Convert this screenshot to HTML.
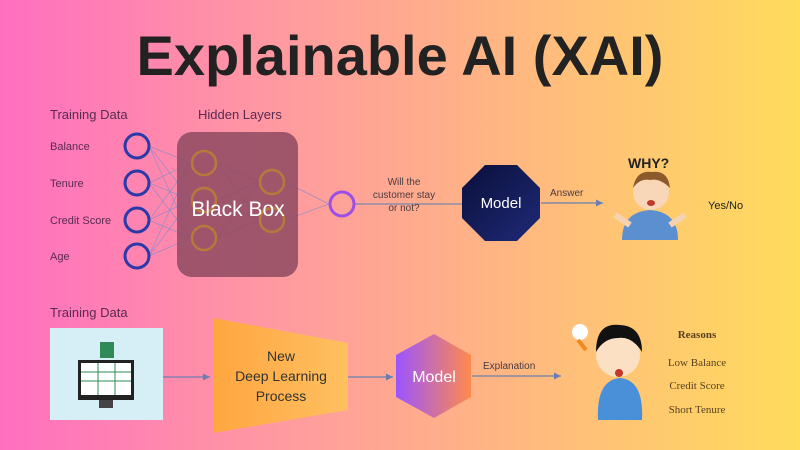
<!DOCTYPE html>
<html><head><meta charset="utf-8"><style>
html,body{margin:0;padding:0;width:800px;height:450px;overflow:hidden}
body{background:linear-gradient(90deg,#ff6fc0 0%,#ff9aa0 35%,#ffb880 65%,#ffdc5c 100%)}
</style></head><body>
<svg width="800" height="450" viewBox="0 0 800 450" xmlns="http://www.w3.org/2000/svg" style="position:absolute;left:0;top:0">
<defs>
<linearGradient id="oct" x1="0" y1="0" x2="1" y2="1"><stop offset="0" stop-color="#0a0f3a"/><stop offset="1" stop-color="#1f2a78"/></linearGradient>
<linearGradient id="hex" x1="0" y1="0" x2="1" y2="0"><stop offset="0" stop-color="#9c55ff"/><stop offset="1" stop-color="#ff8a4c"/></linearGradient>
<linearGradient id="trap" x1="0" y1="0" x2="1" y2="0"><stop offset="0" stop-color="#ffa640"/><stop offset="1" stop-color="#ffc060"/></linearGradient>
<marker id="ar" markerWidth="8" markerHeight="8" refX="6" refY="3" orient="auto"><path d="M0,0 L6,3 L0,6 z" fill="#6a7fb0"/></marker>
</defs>
<text x="400" y="75" text-anchor="middle" font-family="Liberation Sans,sans-serif" font-weight="bold" font-size="56" fill="#222">Explainable AI (XAI)</text>
<g font-family="Liberation Sans,sans-serif" fill="#5a2a50">
<text x="50" y="119" font-size="13">Training Data</text>
<text x="198" y="119" font-size="13">Hidden Layers</text>
<text x="50" y="150" font-size="11">Balance</text>
<text x="50" y="187" font-size="11">Tenure</text>
<text x="50" y="224" font-size="11">Credit Score</text>
<text x="50" y="260" font-size="11">Age</text>
<text x="50" y="317" font-size="13">Training Data</text>
</g>
<g stroke="#8a8ac8" stroke-width="0.8" opacity="0.8">
<path d="M149,146 L191,163 M149,146 L191,200 M149,146 L191,238 M149,183 L191,163 M149,183 L191,200 M149,183 L191,238 M149,220 L191,163 M149,220 L191,200 M149,220 L191,238 M149,256 L191,163 M149,256 L191,200 M149,256 L191,238"/>
<path d="M217,163 L259,182 M217,163 L259,220 M217,200 L259,182 M217,200 L259,220 M217,238 L259,182 M217,238 L259,220 M285,182 L329,204 M285,220 L329,204"/>
</g>
<rect x="177" y="132" width="121" height="145" rx="15" fill="#8e4a62" opacity="0.85"/>
<g fill="none" stroke="#b87a3a" stroke-width="2.5">
<circle cx="204" cy="163" r="12"/><circle cx="204" cy="200" r="12"/><circle cx="204" cy="238" r="12"/>
<circle cx="272" cy="182" r="12"/><circle cx="272" cy="220" r="12"/>
</g>
<text x="238" y="216" text-anchor="middle" font-family="Liberation Sans,sans-serif" font-size="21" fill="#fff">Black Box</text>
<g fill="none" stroke="#2b3aa8" stroke-width="3">
<circle cx="137" cy="146" r="12"/><circle cx="137" cy="183" r="12"/><circle cx="137" cy="220" r="12"/><circle cx="137" cy="256" r="12"/>
</g>
<circle cx="342" cy="204" r="12" fill="none" stroke="#9b4fe8" stroke-width="3"/>
<line x1="355" y1="204" x2="463" y2="204" stroke="#7a86b0" stroke-width="1.2"/>
<g font-family="Liberation Sans,sans-serif" font-size="10" fill="#4a3a40" text-anchor="middle">
<text x="404" y="185">Will the</text><text x="404" y="198">customer stay</text><text x="404" y="211">or not?</text>
</g>
<polygon points="485,165 517,165 540,188 540,218 517,241 485,241 462,218 462,188" fill="url(#oct)"/>
<text x="501" y="208" text-anchor="middle" font-family="Liberation Sans,sans-serif" font-size="15" fill="#fff">Model</text>
<line x1="541" y1="203" x2="603" y2="203" stroke="#6a7fb0" stroke-width="1.2" marker-end="url(#ar)"/>
<text x="550" y="196" font-family="Liberation Sans,sans-serif" font-size="10" fill="#4a3a40">Answer</text>
<text x="628" y="168" font-family="Liberation Sans,sans-serif" font-weight="bold" font-size="14" fill="#222">WHY?</text>
<path d="M622,240 Q622,212 650,210 Q678,212 678,240 Z" fill="#5b8fd0"/>
<path d="M615,215 L630,225 M685,215 L670,225" stroke="#f5d3b0" stroke-width="6"/>
<circle cx="651" cy="192" r="18" fill="#f8d7b8"/>
<path d="M633,188 Q636,170 652,172 Q668,170 670,188 Q660,178 650,180 Q640,178 633,188Z" fill="#8a5a2a"/>
<ellipse cx="651" cy="203" rx="4" ry="3" fill="#c0392b"/>
<text x="708" y="209" font-family="Liberation Sans,sans-serif" font-size="11" fill="#222">Yes/No</text>
<rect x="50" y="328" width="113" height="92" fill="#d6eef6"/>
<rect x="78" y="360" width="56" height="40" fill="#222"/>
<rect x="81" y="363" width="50" height="32" fill="#fff"/>
<path d="M81,372 H131 M81,381 H131 M98,363 V395 M115,363 V395" stroke="#2e8b57" stroke-width="1"/>
<rect x="99" y="400" width="14" height="8" fill="#444"/>
<rect x="100" y="342" width="14" height="16" fill="#2e8b57"/>
<line x1="163" y1="377" x2="210" y2="377" stroke="#6a7fb0" stroke-width="1.2" marker-end="url(#ar)"/>
<polygon points="213,318 348,343 348,410 213,433" fill="url(#trap)"/>
<g font-family="Liberation Sans,sans-serif" font-size="14" fill="#333" text-anchor="middle">
<text x="281" y="361">New</text><text x="281" y="381">Deep Learning</text><text x="281" y="401">Process</text>
</g>
<line x1="348" y1="377" x2="393" y2="377" stroke="#6a7fb0" stroke-width="1.2" marker-end="url(#ar)"/>
<polygon points="434,334 471,355 471,397 434,418 396,397 396,355" fill="url(#hex)"/>
<text x="434" y="382" text-anchor="middle" font-family="Liberation Sans,sans-serif" font-size="16" fill="#fff">Model</text>
<line x1="472" y1="376" x2="561" y2="376" stroke="#6a7fb0" stroke-width="1.2" marker-end="url(#ar)"/>
<text x="483" y="369" font-family="Liberation Sans,sans-serif" font-size="10" fill="#4a3a40">Explanation</text>
<circle cx="580" cy="332" r="8" fill="#fff"/>
<path d="M578,340 L586,350" stroke="#f08a20" stroke-width="4"/>
<path d="M598,420 Q596,380 620,378 Q644,380 642,420 Z" fill="#4a90d8"/>
<circle cx="618" cy="355" r="22" fill="#fbe0c4"/>
<path d="M596,352 Q596,322 620,325 Q642,326 642,352 Q632,336 618,338 Q604,338 596,352Z" fill="#111"/>
<ellipse cx="619" cy="373" rx="4" ry="4" fill="#c0392b"/>
<g font-family="Liberation Serif,serif" fill="#5a4020">
<text x="697" y="338" text-anchor="middle" font-weight="bold" font-size="11">Reasons</text>
<text x="697" y="366" text-anchor="middle" font-size="11">Low Balance</text>
<text x="697" y="389" text-anchor="middle" font-size="11">Credit Score</text>
<text x="697" y="413" text-anchor="middle" font-size="11">Short Tenure</text>
</g>
</svg>
</body></html>
